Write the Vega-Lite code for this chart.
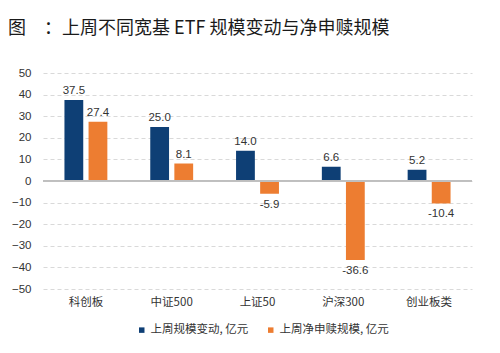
{
  "$schema": "https://vega.github.io/schema/vega-lite/v6.json",
  "autosize": "none",
  "width": 429,
  "height": 216,
  "padding": {"left": 43, "top": 73, "right": 28, "bottom": 64},
  "background": "white",
  "title": {
    "text": "图\u3000：上周不同宽基 ETF 规模变动与净申赎规模",
    "anchor": "start",
    "frame": "group",
    "dx": -35,
    "dy": 5,
    "offset": 34,
    "font": "Noto Sans CJK SC",
    "fontSize": 18,
    "fontWeight": "normal",
    "color": "#1a1a1a"
  },
  "data": {
    "values": [
      {"category": "科创板", "series": "上周规模变动, 亿元", "value": 37.5},
      {"category": "科创板", "series": "上周净申赎规模, 亿元", "value": 27.4},
      {"category": "中证500", "series": "上周规模变动, 亿元", "value": 25.0},
      {"category": "中证500", "series": "上周净申赎规模, 亿元", "value": 8.1},
      {"category": "上证50", "series": "上周规模变动, 亿元", "value": 14.0},
      {"category": "上证50", "series": "上周净申赎规模, 亿元", "value": -5.9},
      {"category": "沪深300", "series": "上周规模变动, 亿元", "value": 6.6},
      {"category": "沪深300", "series": "上周净申赎规模, 亿元", "value": -36.6},
      {"category": "创业板类", "series": "上周规模变动, 亿元", "value": 5.2},
      {"category": "创业板类", "series": "上周净申赎规模, 亿元", "value": -10.4}
    ]
  },
  "encoding": {
    "x": {
      "field": "category",
      "type": "nominal",
      "sort": null,
      "scale": {"paddingInner": 0.5, "paddingOuter": 0.25},
      "axis": {
        "title": null,
        "labelAngle": 0,
        "domain": false,
        "ticks": false,
        "labelPadding": 7,
        "labelFont": "Noto Sans CJK SC",
        "labelFontSize": 11.5,
        "labelColor": "#333333"
      }
    },
    "y": {
      "field": "value",
      "type": "quantitative",
      "scale": {"domain": [-50, 50], "nice": false},
      "axis": {
        "title": null,
        "values": [-50, -40, -30, -20, -10, 0, 10, 20, 30, 40, 50],
        "domain": false,
        "ticks": false,
        "labelPadding": 12,
        "labelFont": "Liberation Sans",
        "labelFontSize": 11.5,
        "labelColor": "#333333",
        "gridColor": "#d9d9d9",
        "gridDash": [4, 3],
        "gridWidth": 1
      }
    },
    "xOffset": {
      "field": "series",
      "type": "nominal",
      "sort": ["上周规模变动, 亿元", "上周净申赎规模, 亿元"],
      "scale": {"paddingInner": 0.22}
    }
  },
  "layer": [
    {
      "mark": {"type": "bar"},
      "encoding": {
        "color": {
          "field": "series",
          "type": "nominal",
          "sort": ["上周规模变动, 亿元", "上周净申赎规模, 亿元"],
          "scale": {"range": ["#0e3f75", "#ed7d31"]},
          "legend": {
            "title": null,
            "orient": "none",
            "legendX": 93,
            "legendY": 251,
            "direction": "horizontal",
            "symbolType": "square",
            "symbolSize": 30,
            "symbolStrokeWidth": 0,
            "labelFont": "Noto Sans CJK SC",
            "labelFontSize": 11.5,
            "labelColor": "#333333",
            "columnPadding": 16,
            "labelOffset": 3
          }
        }
      }
    },
    {
      "transform": [
        {"filter": "datum.value >= 0"},
        {"calculate": "replace(format(datum.value, '.1f'), '\u2212', '-')", "as": "label"}
      ],
      "mark": {"type": "text", "baseline": "bottom", "dy": -4, "font": "Liberation Sans", "fontSize": 11.5, "color": "#333333"},
      "encoding": {"text": {"field": "label", "type": "nominal"}}
    },
    {
      "transform": [
        {"filter": "datum.value < 0"},
        {"calculate": "replace(format(datum.value, '.1f'), '\u2212', '-')", "as": "label"}
      ],
      "mark": {"type": "text", "baseline": "top", "dy": 5, "font": "Liberation Sans", "fontSize": 11.5, "color": "#333333"},
      "encoding": {"text": {"field": "label", "type": "nominal"}}
    },
    {
      "mark": {"type": "rule", "color": "#bfbfbf", "strokeWidth": 1},
      "encoding": {"y": {"datum": 0}, "x": null, "xOffset": null}
    }
  ],
  "config": {
    "view": {"stroke": null}
  }
}
